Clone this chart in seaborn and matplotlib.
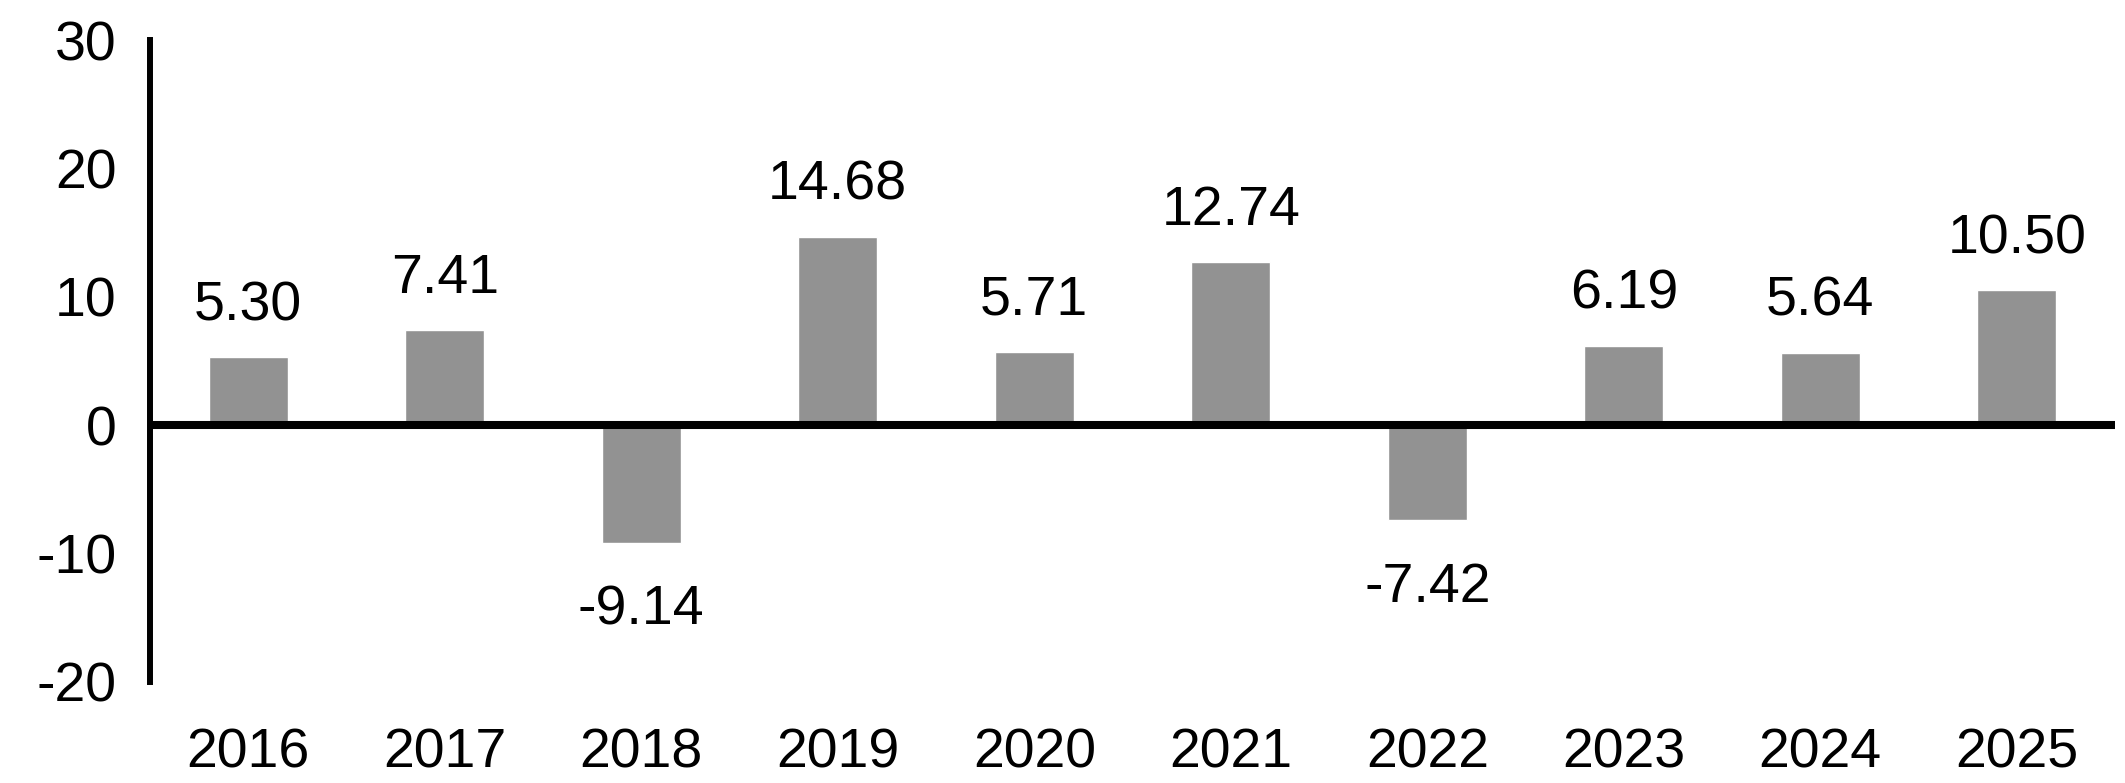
import matplotlib
matplotlib.use("Agg")
import matplotlib.pyplot as plt
import seaborn as sns
import pandas as pd

# annual returns (%)
years = ["2016", "2017", "2018", "2019", "2020", "2021", "2022", "2023", "2024", "2025"]
returns = [5.30, 7.41, -9.14, 14.68, 5.71, 12.74, -7.42, 6.19, 5.64, 10.50]
y_ticks = [-20, -10, 0, 10, 20, 30]

sns.set_style("white")
plt.rcParams["font.family"] = ["Liberation Sans", "DejaVu Sans"]
plt.rcParams["axes.unicode_minus"] = False
plt.rcParams["text.color"] = "black"

df = pd.DataFrame({"Year": years, "Return": returns})

fig = plt.figure(figsize=(21.25, 7.83), dpi=100)
ax = fig.add_axes([0.0706, 0.129, 0.9247, 0.8199])

sns.barplot(data=df, x="Year", y="Return", color="#929292", saturation=1,
            width=0.4, ax=ax)

ax.set_xlim(-0.5, 9.5)
ax.set_ylim(-20, 30)
ax.set_yticks(y_ticks)
ax.set_xlabel("")
ax.set_ylabel("")

# zero line and left axis only
ax.axhline(0, color="black", linewidth=5.8, zorder=3)
for s in ["top", "right", "bottom"]:
    ax.spines[s].set_visible(False)
ax.spines["left"].set_linewidth(4.3)
ax.spines["left"].set_color("black")

ax.tick_params(axis="both", length=0, labelsize=40, colors="black")
ax.tick_params(axis="y", pad=24)
ax.tick_params(axis="x", pad=33)

# value labels
for i, v in enumerate(returns):
    if v >= 0:
        ax.annotate(f"{v:.2f}", (i, v), xytext=(0, 37), textcoords="offset pixels",
                    ha="center", va="baseline", fontsize=40, color="black")
    else:
        ax.annotate(f"{v:.2f}", (i, v), xytext=(0, -82), textcoords="offset pixels",
                    ha="center", va="baseline", fontsize=40, color="black")

fig.savefig("out.png", dpi=100)
